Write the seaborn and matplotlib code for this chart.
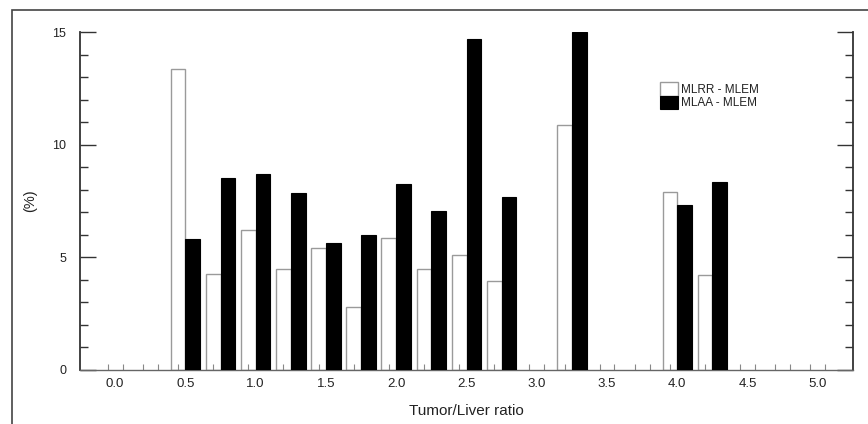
import numpy as np
import pandas as pd
import matplotlib
matplotlib.use("Agg")
import matplotlib.pyplot as plt
from matplotlib.patches import Patch, Rectangle
from matplotlib.ticker import MultipleLocator, FixedLocator
import seaborn as sns

# ---- data ----
ratios = [0.0, 0.25, 0.5, 0.75, 1.0, 1.25, 1.5, 1.75, 2.0, 2.25, 2.5,
          2.75, 3.0, 3.25, 3.5, 3.75, 4.0, 4.25, 4.5, 4.75, 5.0]
mlrr_mlem = [None, None, 13.35, 4.26, 6.23, 4.48, 5.41, 2.82, 5.87, 4.48, 5.12,
             3.96, None, 10.9, None, None, 7.89, 4.23, None, None, None]
mlaa_mlem = [None, None, 5.82, 8.51, 8.72, 7.86, 5.65, 5.98, 8.28, 7.08, 14.69,
             7.67, None, 15.0, None, None, 7.34, 8.34, None, None, None]
series_names = ["MLRR - MLEM", "MLAA - MLEM"]
xtick_labels = ["0.0", "0.5", "1.0", "1.5", "2.0", "2.5", "3.0", "3.5", "4.0", "4.5", "5.0"]
yticks = [0, 5, 10, 15]

rows = []
for r, a, b in zip(ratios, mlrr_mlem, mlaa_mlem):
    rows.append({"ratio": r, "method": series_names[0], "value": a})
    rows.append({"ratio": r, "method": series_names[1], "value": b})
df = pd.DataFrame(rows).dropna()

sns.set_theme(style="white")
plt.rcParams["font.family"] = ["Liberation Sans", "DejaVu Sans"]
plt.rcParams["text.color"] = "#222222"
plt.rcParams["axes.labelcolor"] = "#222222"
plt.rcParams["xtick.color"] = "#222222"
plt.rcParams["ytick.color"] = "#222222"

fig = plt.figure(figsize=(8.68, 4.24), dpi=100)
ax = fig.add_axes([80 / 868, 1 - 370 / 424, (853 - 80) / 868, (370 - 32.3) / 424])

sns.barplot(data=df, x="ratio", y="value", hue="method", order=ratios,
            hue_order=series_names, palette={series_names[0]: "white", series_names[1]: "black"},
            width=0.84, errorbar=None, legend=False, ax=ax)

# style the bars
for bar in ax.containers[0]:
    bar.set_facecolor((1, 1, 1, 0))
    bar.set_edgecolor("#9a9a9a")
    bar.set_linewidth(1.0)
for bar in ax.containers[1]:
    bar.set_facecolor("black")
    bar.set_edgecolor("black")
    bar.set_linewidth(0.8)
    bar.set_zorder(3)

ax.set_xlim(-1.0, 21.0)
ax.set_ylim(0, 15)

# x ticks: labels every 0.5, small ticks at bar centres
n = len(ratios)
ax.set_xticks(np.arange(0, n, 2))
ax.set_xticklabels(xtick_labels, fontsize=9.5)
ax.xaxis.set_minor_locator(FixedLocator(np.concatenate([np.arange(n) - 0.21, np.arange(n) + 0.21])))
ax.tick_params(axis="x", which="major", length=0, pad=6)
ax.tick_params(axis="x", which="minor", direction="in", length=4.3, width=0.8, color="#888888", bottom=True)

# y ticks
ax.set_yticks(yticks)
ax.set_yticklabels([str(v) for v in yticks], fontsize=9)
ax.yaxis.set_minor_locator(MultipleLocator(1))
ax.tick_params(axis="y", which="both", direction="in", left=True, right=True, color="#333333", width=1.0)
ax.tick_params(axis="y", which="major", length=11.5, pad=10)
ax.tick_params(axis="y", which="minor", length=6)

ax.set_xlabel("Tumor/Liver ratio", fontsize=11, labelpad=9.5)
ax.set_ylabel("(%)", fontsize=10.5, labelpad=11)

for s in ["left", "right"]:
    ax.spines[s].set_color("#333333")
    ax.spines[s].set_linewidth(1.3)
ax.spines["bottom"].set_color("#666666")
ax.spines["bottom"].set_linewidth(1.0)
ax.spines["top"].set_visible(False)
ax.grid(False)

handles = [Patch(facecolor="white", edgecolor="#9a9a9a", linewidth=1.0, label=series_names[0]),
           Patch(facecolor="black", edgecolor="black", linewidth=0.8, label=series_names[1])]
ax.legend(handles=handles, loc="upper left", bbox_to_anchor=(0.750, 0.853), frameon=False,
          fontsize=8.5, borderpad=0, borderaxespad=0, handlelength=1.52, handleheight=1.41,
          handletextpad=0.25, labelspacing=0.0)

# outer frame
fig.add_artist(Rectangle((12 / 868, -0.05), 1.0, 1 - 10 / 424 + 0.05, transform=fig.transFigure,
                         fill=False, edgecolor="#444444", linewidth=1.2))

fig.savefig("out.png", dpi=100)
